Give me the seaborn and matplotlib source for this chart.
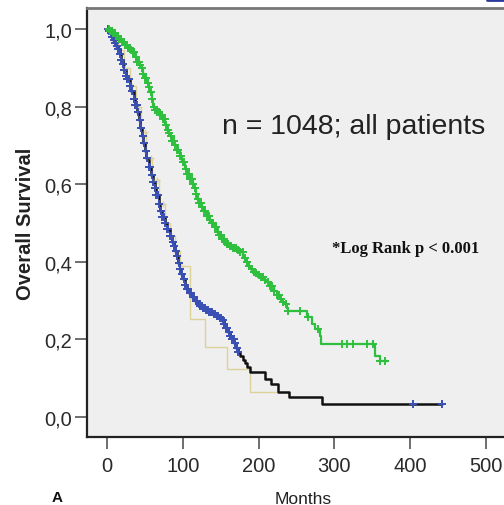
import numpy as np
import pandas as pd
import matplotlib
matplotlib.use("Agg")
import matplotlib.pyplot as plt
import seaborn as sns

# Kaplan-Meier step knots (months, survival after each drop)
green_months = [0, 4, 8, 12, 16, 20, 24, 28, 31, 34, 37, 40, 43, 45, 48, 50, 53, 55, 57, 59,
                61, 64, 67, 70, 74, 77, 79, 81, 83, 86, 89, 92, 96, 99, 103, 106, 110, 113,
                115, 117, 119, 122, 125, 128, 132, 135, 138, 141, 145, 148, 151, 155, 158,
                162, 166, 171, 176, 180, 183, 186, 189, 192, 195, 199, 203, 207, 211, 215,
                220, 224, 228, 231, 234, 237, 239, 264, 270, 275, 281, 283, 354, 360, 371]
green_surv = [1.0, 0.995, 0.99, 0.983, 0.975, 0.967, 0.96, 0.952, 0.946, 0.94, 0.928, 0.915,
              0.906, 0.90, 0.885, 0.875, 0.86, 0.85, 0.838, 0.82, 0.80, 0.792, 0.785, 0.778,
              0.768, 0.752, 0.74, 0.732, 0.724, 0.712, 0.70, 0.688, 0.673, 0.658, 0.64,
              0.627, 0.613, 0.60, 0.59, 0.576, 0.562, 0.551, 0.54, 0.53, 0.518, 0.509, 0.50,
              0.49, 0.477, 0.468, 0.46, 0.452, 0.446, 0.44, 0.435, 0.43, 0.425, 0.41, 0.40,
              0.39, 0.381, 0.375, 0.37, 0.365, 0.36, 0.354, 0.348, 0.337, 0.325, 0.314,
              0.304, 0.297, 0.29, 0.28, 0.273, 0.258, 0.24, 0.227, 0.209, 0.188, 0.157,
              0.144, 0.144]
green_censor = [2, 4, 6, 8, 10, 12, 14, 16, 18, 20, 22, 24, 26, 28, 30, 32, 34, 36, 38, 40,
                42, 44, 46, 48, 50, 52, 54, 56, 58, 60, 62, 64, 66, 68, 70, 72, 74, 76, 78,
                80, 82, 84, 86, 88, 90, 92, 94, 96, 98, 100, 102, 104, 106, 108, 110, 112,
                114, 116, 118, 120, 122, 124, 126, 128, 130, 132, 134, 136, 138, 140, 142,
                144, 146, 148, 150, 152, 154, 156, 158, 160, 162, 164, 166, 168, 170, 173,
                176, 179, 182, 185, 188, 191, 194, 197, 200, 203, 206, 209, 212, 215, 218,
                221, 224, 227, 230, 233, 236, 239, 255, 266, 279, 310, 317, 325, 343, 351,
                360, 367]

blue_months = [0, 2, 4, 6, 8, 10, 12, 14, 17, 19, 21, 23, 25, 27, 30, 32, 35, 37, 40, 42, 44,
               46, 48, 50, 52, 55, 58, 61, 63, 65, 68, 70, 73, 76, 79, 83, 86, 88, 90, 92,
               94, 96, 98, 100, 103, 105, 108, 112, 116, 120, 123, 127, 131, 135, 140, 145,
               149, 152, 155, 157, 160, 162, 165, 168, 170, 173, 176, 179, 182, 185, 189,
               209, 216, 226, 240, 284, 442]
blue_surv = [1.0, 0.995, 0.99, 0.98, 0.972, 0.963, 0.955, 0.948, 0.935, 0.92, 0.91, 0.895,
             0.88, 0.87, 0.853, 0.84, 0.82, 0.805, 0.785, 0.765, 0.745, 0.725, 0.705, 0.685,
             0.668, 0.645, 0.625, 0.605, 0.59, 0.572, 0.55, 0.53, 0.515, 0.50, 0.485, 0.466,
             0.452, 0.44, 0.428, 0.415, 0.398, 0.381, 0.368, 0.355, 0.34, 0.33, 0.32, 0.31,
             0.30, 0.292, 0.286, 0.28, 0.275, 0.27, 0.265, 0.26, 0.256, 0.25, 0.24, 0.23,
             0.218, 0.209, 0.20, 0.19, 0.178, 0.167, 0.157, 0.148, 0.138, 0.129, 0.116,
             0.098, 0.085, 0.064, 0.052, 0.034, 0.034]
blue_censor = [1, 3, 5, 7, 9, 11, 13, 15, 17, 19, 21, 23, 25, 27, 29, 31, 33, 35, 37, 39, 41,
               43, 45, 47, 49, 51, 53, 55, 57, 59, 61, 63, 65, 67, 69, 71, 73, 75, 77, 79, 81,
               83, 85, 87, 89, 91, 93, 95, 97, 99, 101, 103, 105, 107, 109, 111, 113, 115,
               117, 119, 121, 123, 125, 127, 129, 131, 133, 135, 137, 139, 141, 143, 145,
               147, 149, 151, 153, 155, 157, 159, 161, 163, 165, 167, 169, 171, 173, 404,
               442]

tan_months = [0, 8, 15, 22, 30, 38, 45, 52, 60, 68, 76, 83, 90, 96, 110, 129, 158, 189, 223]
tan_surv = [1.0, 0.972, 0.945, 0.90, 0.853, 0.80, 0.735, 0.668, 0.61, 0.55, 0.50, 0.466,
            0.428, 0.39, 0.253, 0.181, 0.124, 0.064, 0.064]
tan_censor = [6, 14, 24, 33, 42, 50, 58, 66, 74, 84, 98]

x_ticks = [0, 100, 200, 300, 400, 500]
y_ticks = [0.0, 0.2, 0.4, 0.6, 0.8, 1.0]
y_tick_labels = ["0,0", "0,2", "0,4", "0,6", "0,8", "1,0"]

GREEN = "#2fbf3f"
BLUE = "#3a50b4"
BLACK = "#111111"
TAN = "#dcd39c"


def step_frame(months, surv):
    return pd.DataFrame({"months": months, "surv": surv})


def censor_frame(months, surv, censor):
    idx = np.searchsorted(np.asarray(months), np.asarray(censor), side="right") - 1
    return pd.DataFrame({"months": censor, "surv": np.asarray(surv)[idx]})


sns.set_theme(style="white")
plt.rcParams["font.family"] = ["Liberation Sans", "DejaVu Sans"]

fig = plt.figure(figsize=(5.04, 5.06), dpi=100)
W, H = 504, 506
left_px, right_px, top_px, bottom_px = 87, 520, 9, 438
ax = fig.add_axes([left_px / W, 1 - bottom_px / H,
                   (right_px - left_px) / W, (bottom_px - top_px) / H])
ax.set_facecolor("#efefef")

# tan group (thin line underneath)
sns.lineplot(data=step_frame(tan_months, tan_surv), x="months", y="surv", ax=ax,
             drawstyle="steps-post", color=TAN, lw=1.0, estimator=None, sort=False)
sns.scatterplot(data=censor_frame(tan_months, tan_surv, tan_censor), x="months", y="surv",
                ax=ax, marker="+", s=25, color=TAN, linewidth=1.0, zorder=3)

# black line with blue censor marks
sns.lineplot(data=step_frame(blue_months, blue_surv), x="months", y="surv", ax=ax,
             drawstyle="steps-post", color=BLACK, lw=1.8, estimator=None, sort=False)
sns.scatterplot(data=censor_frame(blue_months, blue_surv, blue_censor), x="months", y="surv",
                ax=ax, marker="+", s=34, color=BLUE, linewidth=1.4, zorder=4)

# green group
sns.lineplot(data=step_frame(green_months, green_surv), x="months", y="surv", ax=ax,
             drawstyle="steps-post", color=GREEN, lw=1.6, estimator=None, sort=False)
sns.scatterplot(data=censor_frame(green_months, green_surv, green_censor), x="months",
                y="surv", ax=ax, marker="+", s=34, color=GREEN, linewidth=1.4, zorder=4)

px_per_month = 0.7575
x0_px = 107
ax.set_xlim((left_px - x0_px) / px_per_month, (right_px - x0_px) / px_per_month)
ax.set_ylim((418 - bottom_px) / 388, (418 - top_px) / 388)

ax.set_xticks(x_ticks)
ax.set_xticklabels([str(t) for t in x_ticks])
ax.set_yticks(y_ticks)
ax.set_yticklabels(y_tick_labels)
ax.tick_params(axis="both", direction="out", length=8.5, width=1.2, color="#555555",
               labelsize=14.5, labelcolor="#2a2a2a")
ax.tick_params(axis="x", pad=5)
ax.tick_params(axis="y", pad=2)
ax.xaxis.set_ticks_position("bottom")
ax.yaxis.set_ticks_position("left")

for side in ["left", "bottom"]:
    ax.spines[side].set_color("#222222")
    ax.spines[side].set_linewidth(1.6)
ax.spines["top"].set_color("#777777")
ax.spines["top"].set_linewidth(2.0)
ax.spines["right"].set_visible(False)

ax.set_xlabel("Months", fontsize=12.5, color="#222222", labelpad=12)
ax.set_ylabel("Overall Survival", fontsize=14.5, fontweight="bold", color="#222222",
              labelpad=7)

ax.text(152, 0.75, "n = 1048; all patients", fontsize=20.5, color="#222222",
        ha="left", va="center")
ax.text(297, 0.436, "*Log Rank p < 0.001", fontsize=12, fontweight="bold",
        family=["Liberation Serif", "DejaVu Serif"], color="#111111",
        ha="left", va="center")

fig.text(57 / W, 1 - 505 / H, "A", fontsize=11, fontweight="bold", color="#111111",
         ha="center", va="bottom")
fig.add_artist(plt.Line2D([487 / W, 1.0], [1 - 1 / H, 1 - 1 / H],
                          transform=fig.transFigure, color="#2a3a9a", lw=2))

fig.savefig("out.png", dpi=100, facecolor="white")
